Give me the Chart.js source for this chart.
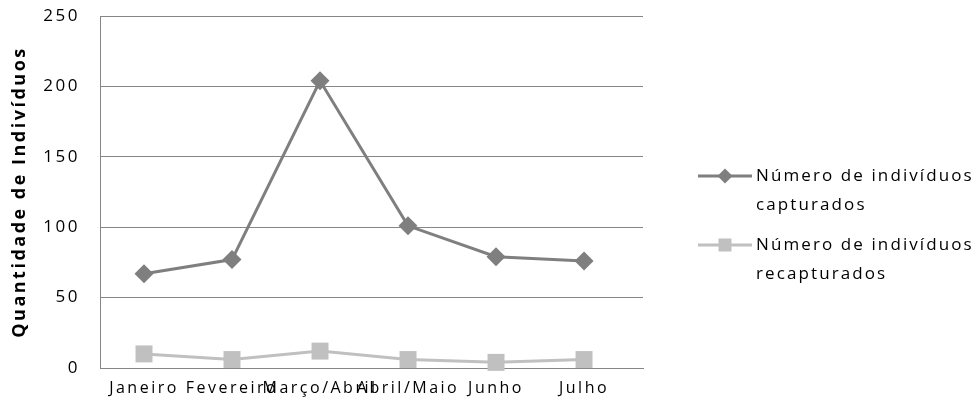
<!DOCTYPE html>
<html lang="pt">
<head>
<meta charset="UTF-8">
<title>Quantidade de Indivíduos</title>
<script src="https://cdn.jsdelivr.net/npm/chart.js"></script>
<style>
  body { margin: 0; background: #fff; }
</style>
</head>
<body>
<canvas id="myChart" width="977" height="412"></canvas>
<script>
// categorias e valores
const categories = ['Janeiro', 'Fevereiro', 'Março/Abril', 'Abril/Maio', 'Junho', 'Julho'];
const capturados = [67, 77, 204, 101, 79, 76];
const recapturados = [10, 6, 12, 6, 4, 6];
const yMin = 0, yMax = 250, yStep = 50;
const yTitle = 'Quantidade de Indivíduos';
const legendLines = [
    ['Número de indivíduos', 'capturados'],
    ['Número de indivíduos', 'recapturados']
];

const fontFamily = '"Open Sans", sans-serif';
const gridColor = '#868686';
const spacing = '2.5px';

// espacamento entre letras como no original
const spacingPlugin = {
    id: 'spacing',
    beforeLayout(chart) { chart.ctx.letterSpacing = spacing; },
    beforeDraw(chart) { chart.ctx.letterSpacing = spacing; }
};

// legenda desenhada a direita, duas linhas por item
const sideLegend = {
    id: 'sideLegend',
    afterDraw(chart) {
        const ctx = chart.ctx;
        const x0 = 698, x1 = 752, tx = 756;
        const rows = [176, 245];
        ctx.save();
        ctx.letterSpacing = '2.1px';
        chart.data.datasets.forEach((ds, i) => {
            const y = rows[i];
            ctx.strokeStyle = ds.borderColor;
            ctx.lineWidth = 3;
            ctx.beginPath();
            ctx.moveTo(x0, y);
            ctx.lineTo(x1, y);
            ctx.stroke();
            ctx.fillStyle = ds.pointBackgroundColor;
            const cx = (x0 + x1) / 2;
            ctx.beginPath();
            if (ds.pointStyle === 'rectRot') {
                ctx.moveTo(cx, y - 7.5);
                ctx.lineTo(cx + 7.5, y);
                ctx.lineTo(cx, y + 7.5);
                ctx.lineTo(cx - 7.5, y);
            } else {
                ctx.rect(cx - 6.5, y - 6.5, 13, 13);
            }
            ctx.closePath();
            ctx.fill();
            ctx.fillStyle = '#000';
            ctx.font = '17px ' + fontFamily;
            ctx.textBaseline = 'middle';
            ctx.textAlign = 'left';
            legendLines[i].forEach((t, j) => ctx.fillText(t, tx, y + j * 29));
        });
        ctx.restore();
    }
};

const ctx = document.getElementById('myChart').getContext('2d');
new Chart(ctx, {
    type: 'line',
    data: {
        labels: categories,
        datasets: [{
            label: legendLines[0].join(' '),
            data: capturados,
            borderColor: '#7f7f7f',
            backgroundColor: '#7f7f7f',
            pointBackgroundColor: '#7f7f7f',
            pointBorderWidth: 0,
            borderWidth: 3,
            pointStyle: 'rectRot',
            pointRadius: 9.5,
            clip: false,
            tension: 0
        }, {
            label: legendLines[1].join(' '),
            data: recapturados,
            borderColor: '#c0c0c0',
            backgroundColor: '#c0c0c0',
            pointBackgroundColor: '#c0c0c0',
            pointBorderWidth: 0,
            borderWidth: 3,
            pointStyle: 'rect',
            pointRadius: 12,
            clip: false,
            tension: 0
        }]
    },
    options: {
        responsive: false,
        animation: false,
        layout: { autoPadding: false, padding: { top: 16, right: 334, left: 0, bottom: 0 } },
        plugins: {
            legend: { display: false },
            tooltip: { enabled: false }
        },
        scales: {
            x: {
                offset: true,
                grid: { display: false, drawTicks: false },
                border: { display: true, color: gridColor, width: 1 },
                ticks: {
                    autoSkip: false,
                    maxRotation: 0,
                    padding: 11,
                    color: '#000',
                    font: { family: fontFamily, size: 16 }
                },
                // as categorias do original ficam um pouco mais juntas que a largura do grafico
                afterBuildTicks(scale) { scale._valueRange = 6.17; },
                afterFit(scale) { scale.height = 44; }
            },
            y: {
                min: yMin,
                max: yMax,
                grid: { color: gridColor, drawTicks: false },
                border: { display: true, color: gridColor, width: 1 },
                ticks: {
                    stepSize: yStep,
                    padding: 20,
                    color: '#000',
                    font: { family: fontFamily, size: 17 }
                },
                title: {
                    display: true,
                    text: yTitle,
                    color: '#000',
                    font: { family: fontFamily, size: 18, weight: 'bold' },
                    padding: { top: 9, bottom: 0 }
                },
                afterFit(scale) {
                    scale.width = 100;
                    scale.paddingTop = 0;
                    scale.paddingBottom = 0;
                }
            }
        }
    },
    plugins: [spacingPlugin, sideLegend]
});
</script>
</body>
</html>
